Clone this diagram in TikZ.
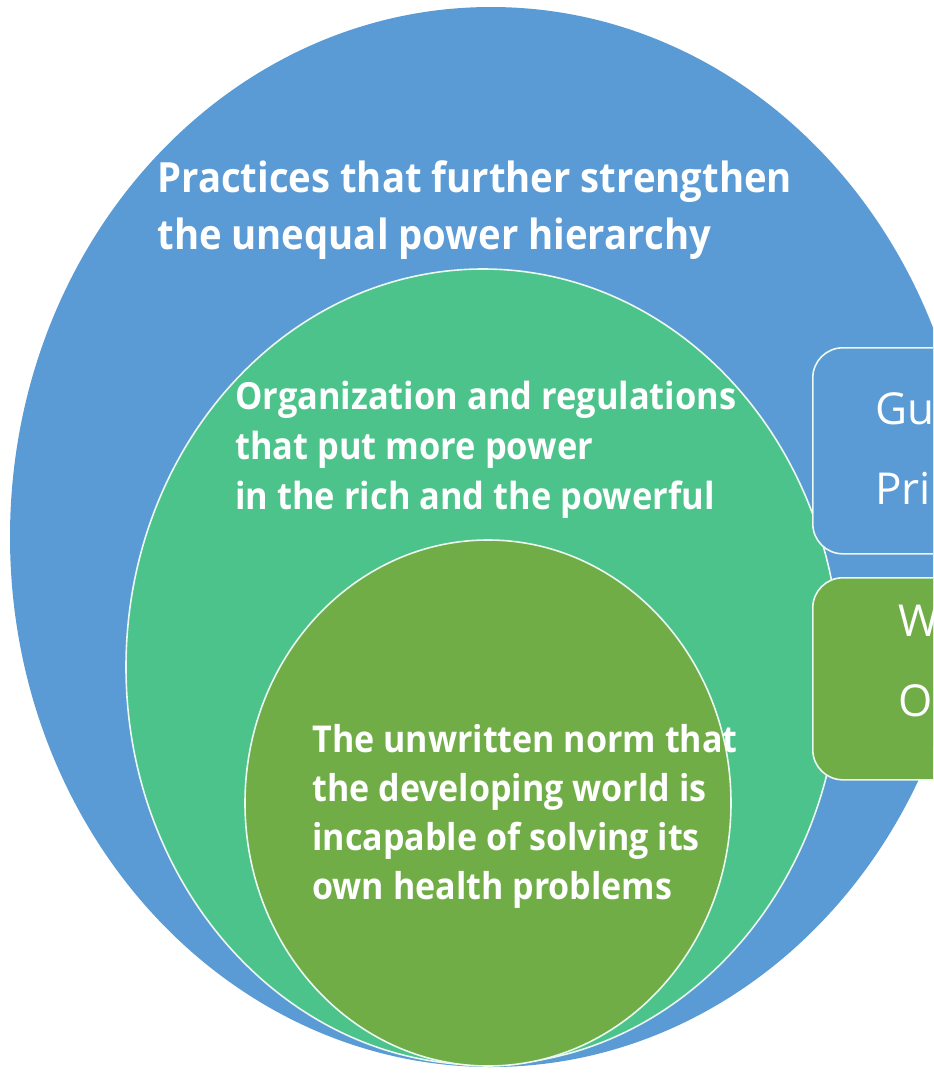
\documentclass[tikz,border=0pt]{standalone}
\usepackage{fontspec}
\setmainfont{Open Sans}
\newfontfamily\narrowfont{Open Sans}[FakeStretch=0.92]
\usetikzlibrary{shapes.geometric}
\definecolor{outerblue}{HTML}{5B9BD5}
\definecolor{midgreen}{HTML}{4CC38A}
\definecolor{innergreen}{HTML}{70AD47}
\definecolor{rim}{HTML}{EAF8F0}

\begin{document}
\begin{tikzpicture}[x=0.5pt,y=-0.5pt,line join=round,
  ring/.style={ellipse,draw=rim,line width=0.8pt,inner sep=0pt},
  tag/.style={text=white,align=left,anchor=north west,inner sep=0pt},
  card/.style={rectangle,draw=rim,line width=0.8pt,rounded corners=15pt,anchor=north west,minimum width=160pt,minimum height=103pt},
  cardtext/.style={tag,font=\fontsize{22}{40}\selectfont}]
 \useasboundingbox (0,0) rectangle (933,1077);
 \clip (0,0) rectangle (933,1077);
 \node[ring,draw=none,fill=outerblue,minimum width=481pt,minimum height=530pt] (outer) at (491,537) {};
 \node[ring,fill=midgreen,minimum width=357pt,minimum height=398pt] (middle) at (483,667) {};
 \node[ring,fill=innergreen,minimum width=243pt,minimum height=263pt] (inner) at (488,803) {};
 \node[tag,font=\narrowfont\bfseries\fontsize{20.8}{28.5}\selectfont] (practices) at (157,160) {Practices that further strengthen\\the unequal power hierarchy};
 \node[tag,font=\narrowfont\bfseries\fontsize{18.7}{25}\selectfont] (organization) at (235,381) {Organization and regulations\\that put more power\\in the rich and the powerful};
 \node[tag,font=\narrowfont\bfseries\fontsize{18.5}{24.5}\selectfont] (norm) at (312,724) {The unwritten norm that\\the developing world is\\incapable of solving its\\own health problems};
 \node[card,fill=outerblue] (guide) at (812,347) {};
 \node[card,fill=innergreen,minimum height=101pt] (work) at (812,577) {};
 \node[cardtext] (guidetext) at (875,392) {Gu\\Pri};
 \node[cardtext] (worktext) at (898,605) {W\\O};
\end{tikzpicture}
\end{document}
